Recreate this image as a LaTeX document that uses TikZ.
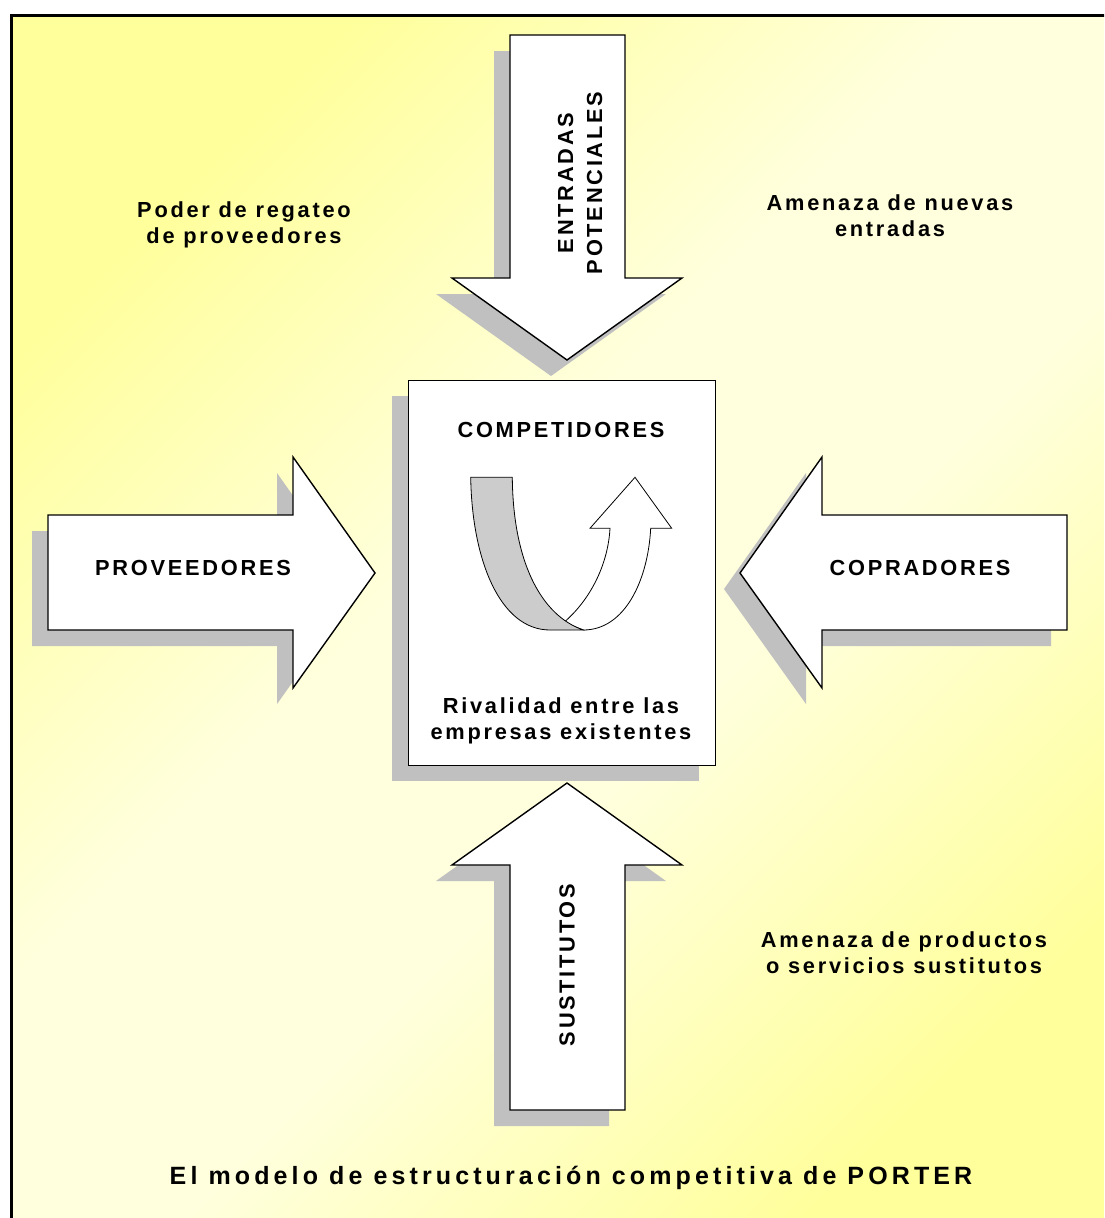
\documentclass[tikz,border=0pt]{standalone}
\usepackage{fontspec}
\setmainfont{Liberation Sans}
\newfontfamily\spaced[LetterSpace=12.5]{Liberation Sans}
\newfontfamily\titlespaced[LetterSpace=16.5]{Liberation Sans}
\definecolor{shadowgray}{RGB}{192,192,192}
\definecolor{ribbongray}{RGB}{204,204,204}
\definecolor{bgyellow}{RGB}{255,255,156}
\definecolor{bgpale}{RGB}{255,255,222}
\pgfdeclareverticalshading{bgshade}{100bp}{color(0bp)=(bgyellow); color(25bp)=(bgyellow); color(44bp)=(bgpale); color(56bp)=(bgpale); color(75bp)=(bgyellow); color(100bp)=(bgyellow)}
\begin{document}
\begin{tikzpicture}[x=1pt,y=-1pt,
  shadowfill/.style={fill=shadowgray, draw=none},
  bigarrow/.style={fill=white, draw=black, line width=1.4pt, line join=miter},
  lbl/.style={font=\spaced\bfseries\fontsize{21.8}{26}\selectfont, align=center, inner sep=0pt},
  toparrow/.style={insert path={(510,35) -- (625,35) -- (625,278) -- (682,278) -- (567,360) -- (452,278) -- (510,278) -- cycle}},
  botarrow/.style={insert path={(510,1110) -- (625,1110) -- (625,865) -- (682,865) -- (567,783) -- (452,865) -- (510,865) -- cycle}},
  leftarrow/.style={insert path={(48,515) -- (293,515) -- (293,457) -- (375,573) -- (293,688) -- (293,630) -- (48,630) -- cycle}},
  rightarrow/.style={insert path={(1067,515) -- (822,515) -- (822,457) -- (740,573) -- (822,688) -- (822,630) -- (1067,630) -- cycle}},
  centerbox/.style={insert path={(408,380) rectangle (715,765)}},
  drop/.style={shift={(-16,16)}}]

\useasboundingbox (0,0) rectangle (1104,1218);
\clip (0,0) rectangle (1104,1218);

% page and framed, shaded panel
\fill[white] (0,0) rectangle (1104,1218);
\shade[shading=bgshade, shading angle=45] (11,15) rectangle (1130,1240);
\draw[black, line width=3pt] (11,15) rectangle (1130,1240);

% drop shadows
\path[shadowfill, drop, toparrow];
\path[shadowfill, drop, botarrow];
\path[shadowfill, drop, leftarrow];
\path[shadowfill, drop, rightarrow];
\path[shadowfill, drop, centerbox];

% the four forces
\path[bigarrow, toparrow];
\path[bigarrow, botarrow];
\path[bigarrow, leftarrow];
\path[bigarrow, rightarrow];
\path[fill=white, draw=black, line width=1pt, centerbox];

% U-turn ribbon inside the rivalry box
\draw[fill=white, line width=0.8pt, line join=miter]
  (583.3,630) .. controls (625,630) and (648,580) .. (650.7,528.3)
  -- (671.7,528.3) -- (635,477.3) -- (590,528.3) -- (610,528.3)
  .. controls (608,565) and (590,600) .. (564,622.3) -- cycle;
\draw[fill=ribbongray, line width=0.8pt]
  (470.7,477.3) .. controls (472,560) and (500,630) .. (550,630)
  -- (583.3,630) .. controls (540,615) and (513,560) .. (512.3,477.3) -- cycle;

% labels
\node[lbl] (entradas) at (580,183) [rotate=90, font=\spaced\bfseries\fontsize{21.8}{29}\selectfont] {ENTRADAS\\POTENCIALES};
\node[lbl, rotate=90] (sustitutos) at (567,965) {SUSTITUTOS};
\node[lbl, anchor=base] (proveedores) at (193,575) {PROVEEDORES};
\node[lbl, anchor=base] (compradores) at (920,575) {COPRADORES};
\node[lbl, anchor=base] (competidores) at (561,437) {COMPETIDORES};
\node[lbl] (rivalidad) at (561,721) {Rivalidad entre las\\empresas existentes};
\node[lbl] (poder) at (244,225) {Poder de regateo\\de proveedores};
\node[lbl] (nuevas) at (890,216) {Amenaza de nuevas\\entradas};
\node[lbl] (productos) at (904,953) {Amenaza de productos\\o servicios sustitutos};
\node[lbl, anchor=base, font=\titlespaced\bfseries\fontsize{25}{28}\selectfont] (titulo) at (571,1184)
  {El modelo de estructuración competitiva de PORTER};
\end{tikzpicture}
\end{document}
